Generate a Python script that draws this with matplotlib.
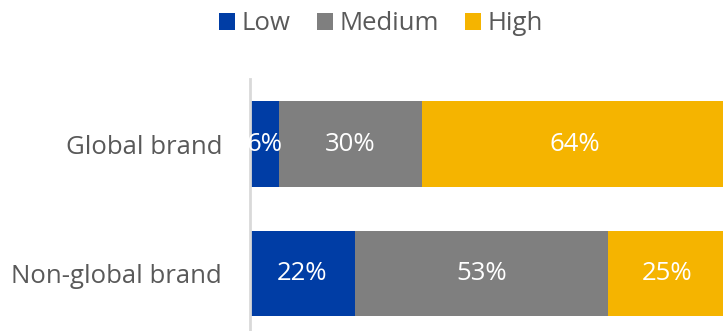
import numpy as np
import matplotlib.pyplot as plt

plt.rcParams['font.family'] = ['Open Sans', 'DejaVu Sans']

brands = ['Non-global brand', 'Global brand']
low = np.array([22, 6])
medium = np.array([53, 30])
high = np.array([25, 64])
series = ['Low', 'Medium', 'High']
colors = ['#003DA5', '#7F7F7F', '#F5B400']

W, H = 723, 331
fs = 18.5
fig = plt.figure(figsize=(W / 100, H / 100), dpi=100)
ax = fig.add_axes([250 / W, 0, 477 / W, (331 - 79) / H])

y = np.arange(len(brands))
left = np.zeros(len(brands))
handles = []
for vals, name, c in zip([low, medium, high], series, colors):
    bars = ax.barh(y, vals, left=left, height=0.664, color=c, label=name)
    handles.append(bars)
    for yi, v, l in zip(y, vals, left):
        ax.text(l + v / 2, yi, f'{v}%', ha='center', va='center',
                color='white', fontsize=fs)
    left = left + vals

ax.set_xlim(0, 100)
ax.set_ylim(-0.444, 1.502)
ax.set_yticks(y)
ax.set_yticklabels(brands, fontsize=fs, color='#595959')
ax.tick_params(axis='y', length=0, pad=20)
ax.set_xticks([])
for s in ['top', 'right', 'bottom']:
    ax.spines[s].set_visible(False)
ax.spines['left'].set_color('#D9D9D9')
ax.spines['left'].set_linewidth(2)

fig.legend(handles, series, loc='center', bbox_to_anchor=(381 / W, 1 - 24 / H),
           ncol=3, frameon=False, fontsize=fs, labelcolor='#595959',
           handlelength=0.62, handleheight=0.62, handletextpad=0.27,
           columnspacing=1.0, borderpad=0)

fig.savefig('out.png', dpi=100)
